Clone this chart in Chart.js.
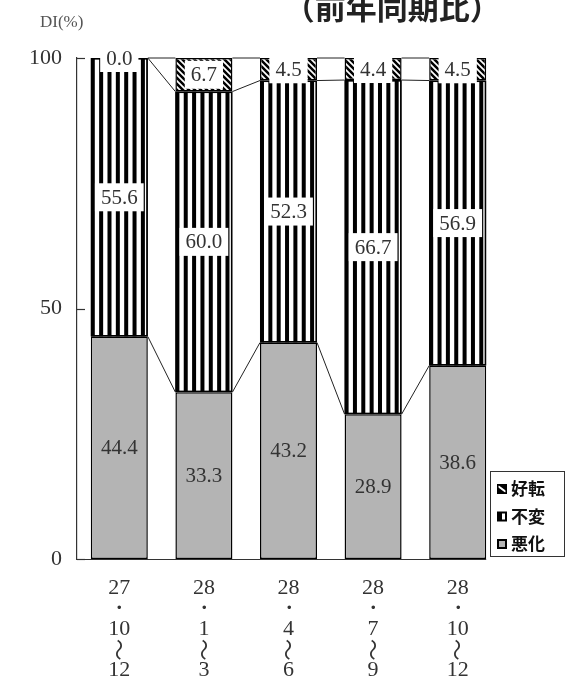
<!DOCTYPE html>
<html>
<head>
<meta charset="utf-8">
<script src="https://cdn.jsdelivr.net/npm/chart.js@4"></script>
<style>
  html, body { margin: 0; padding: 0; background: #fff; }
  #c { display: block; }
</style>
</head>
<body>
<canvas id="c" width="566" height="693"></canvas>
<script>
// Quarterly DI breakdown (%): worsened / unchanged / improved
const periods = [
  ['27', '・', '10', '～', '12'],
  ['28', '・', '1', '～', '3'],
  ['28', '・', '4', '～', '6'],
  ['28', '・', '7', '～', '9'],
  ['28', '・', '10', '～', '12']
];
const worse  = [44.4, 33.3, 43.2, 28.9, 38.6];
const same   = [55.6, 60.0, 52.3, 66.7, 56.9];
const better = [0.0, 6.7, 4.5, 4.4, 4.5];
const yTicks = [0, 50, 100];
const seriesNames = ['悪化', '不変', '好転'];
const titleText = '（前年同期比）';
const unitText = 'DI(%)';

const SERIF = '"Liberation Serif", "DejaVu Serif", serif';
const GOTHIC = '"Noto Sans CJK JP", "Noto Sans", sans-serif';
const WAVE = '～';
const TICK_LINE = 20.5;
const TICK_PAD = 19;

const canvas = document.getElementById('c');
const ctx0 = canvas.getContext('2d');

// diagonal hatch: black ground, white "\" strokes
function makeHatch() {
  const s = 6;
  const c = document.createElement('canvas');
  c.width = s; c.height = s;
  const g = c.getContext('2d');
  g.fillStyle = '#000';
  g.fillRect(0, 0, s, s);
  g.strokeStyle = '#fff';
  g.lineWidth = 1.7;
  g.beginPath();
  g.moveTo(-1, -1); g.lineTo(s + 1, s + 1);
  g.moveTo(-1, s - 1); g.lineTo(1, s + 1);
  g.moveTo(s - 1, -1); g.lineTo(s + 1, 1);
  g.stroke();
  return ctx0.createPattern(c, 'repeat');
}
const hatch = makeHatch();
const GRAY = '#b4b4b4';

// vertical stripes inside each "unchanged" bar, aligned to the bar edges
const stripePlugin = {
  id: 'stripes',
  afterDatasetDraw(chart, args) {
    if (args.index !== 1) return;
    const ctx = chart.ctx;
    args.meta.data.forEach(bar => {
      const p = bar.getProps(['x', 'y', 'base', 'width'], true);
      const l = p.x - p.width / 2, r = p.x + p.width / 2;
      const t = Math.min(p.y, p.base), b = Math.max(p.y, p.base);
      ctx.save();
      ctx.beginPath();
      ctx.rect(l, t, r - l, b - t);
      ctx.clip();
      ctx.fillStyle = '#000';
      for (let sx = l; sx < r - 2; sx += 8.35) ctx.fillRect(sx, t, 4, b - t);
      ctx.restore();
      ctx.save();
      ctx.strokeStyle = '#000';
      ctx.lineWidth = 1.5;
      ctx.strokeRect(l + 0.75, t + 0.75, r - l - 1.5, b - t - 1.5);
      ctx.restore();
    });
  }
};

// connector lines between bars, value labels, axis details
const overlayPlugin = {
  id: 'overlay',
  afterDatasetsDraw(chart) {
    const ctx = chart.ctx;
    const area = chart.chartArea;
    const yScale = chart.scales.y;
    const nDs = chart.data.datasets.length;

    // inward tick marks on the value axis
    ctx.save();
    ctx.strokeStyle = '#333';
    ctx.lineWidth = 1.2;
    yTicks.forEach(v => {
      const py = Math.round(yScale.getPixelForValue(v)) + 0.5;
      ctx.beginPath();
      ctx.moveTo(area.left, py);
      ctx.lineTo(area.left + 8, py);
      ctx.stroke();
    });
    // base line under the bars
    const lastMeta = chart.getDatasetMeta(0).data;
    const lastBar = lastMeta[lastMeta.length - 1].getProps(['x', 'width'], true);
    const by = Math.round(yScale.getPixelForValue(0)) + 0.5;
    ctx.beginPath();
    ctx.moveTo(area.left, by);
    ctx.lineTo(lastBar.x + lastBar.width / 2, by);
    ctx.stroke();
    ctx.restore();

    // connector lines at each stacked boundary
    ctx.save();
    ctx.strokeStyle = '#222';
    ctx.lineWidth = 1;
    for (let d = 0; d < nDs; d++) {
      const bars = chart.getDatasetMeta(d).data;
      for (let i = 0; i < bars.length - 1; i++) {
        const a = bars[i].getProps(['x', 'y', 'width'], true);
        const b = bars[i + 1].getProps(['x', 'y', 'width'], true);
        ctx.beginPath();
        ctx.moveTo(a.x + a.width / 2, a.y);
        ctx.lineTo(b.x - b.width / 2, b.y);
        ctx.stroke();
      }
    }
    ctx.restore();

    // value labels
    ctx.save();
    ctx.font = '21px ' + SERIF;
    ctx.textAlign = 'center';
    ctx.textBaseline = 'middle';
    chart.data.datasets.forEach((ds, d) => {
      const bars = chart.getDatasetMeta(d).data;
      bars.forEach((bar, i) => {
        const p = bar.getProps(['x', 'y', 'base'], true);
        const cy = (p.y + p.base) / 2;
        const txt = ds.data[i].toFixed(1);
        if (ds.labelBox) {
          const w = ctx.measureText(txt).width + 12;
          ctx.fillStyle = '#fff';
          ctx.fillRect(p.x - w / 2, cy - 14, w, 28);
        }
        ctx.fillStyle = '#333';
        ctx.fillText(txt, p.x, cy + 1);
      });
    });
    ctx.restore();
  },
  afterDraw(chart) {
    const ctx = chart.ctx;
    const area = chart.chartArea;
    const xScale = chart.scales.x;

    // the range mark of each period label is written turned upright
    ctx.save();
    ctx.fillStyle = '#333';
    ctx.font = '22px ' + GOTHIC;
    ctx.textAlign = 'center';
    ctx.textBaseline = 'middle';
    chart.data.labels.forEach((lines, i) => {
      const x = xScale.getPixelForTick(i);
      lines.forEach((s, j) => {
        if (s !== WAVE) return;
        const y = area.bottom + TICK_PAD + TICK_LINE / 2 + j * TICK_LINE;
        ctx.save();
        ctx.translate(x, y);
        ctx.rotate(Math.PI / 2);
        ctx.fillText(s, 0, 0);
        ctx.restore();
      });
    });
    ctx.restore();

    // heading and unit
    ctx.save();
    ctx.fillStyle = '#222';
    ctx.font = 'bold 31px ' + GOTHIC;
    ctx.textAlign = 'center';
    ctx.textBaseline = 'alphabetic';
    ctx.fillText(titleText, area.left + area.width * 0.745, 19);
    ctx.fillStyle = '#555';
    ctx.font = '17px ' + SERIF;
    ctx.textAlign = 'left';
    ctx.textBaseline = 'middle';
    ctx.fillText(unitText, area.left - 37, 23);
    ctx.restore();

    // legend box
    const bx = chart.width - 76, bw = 75;
    const by = area.bottom - 88, bh = 86;
    ctx.save();
    ctx.fillStyle = '#fff';
    ctx.fillRect(bx, by, bw, bh + 1);
    ctx.strokeStyle = '#333';
    ctx.lineWidth = 1;
    ctx.strokeRect(bx + 0.5, by + 0.5, bw - 1, bh - 1);
    ctx.font = 'bold 17px ' + GOTHIC;
    ctx.textAlign = 'left';
    ctx.textBaseline = 'middle';
    const order = chart.data.datasets.map((ds, d) => d).reverse();
    order.forEach((d, k) => {
      const cy = by + 18 + k * 27.5;
      const ix = bx + 7, iy = cy - 5;
      ctx.fillStyle = '#000';
      ctx.fillRect(ix, iy, 10, 10);
      if (d === 2) {
        ctx.save();
        ctx.beginPath(); ctx.rect(ix + 1.5, iy + 1.5, 7, 7); ctx.clip();
        ctx.strokeStyle = '#fff'; ctx.lineWidth = 2;
        ctx.beginPath(); ctx.moveTo(ix + 1, iy + 2); ctx.lineTo(ix + 9, iy + 8); ctx.stroke();
        ctx.restore();
      } else if (d === 1) {
        ctx.fillStyle = '#fff';
        ctx.fillRect(ix + 5, iy + 2, 3, 6);
      } else {
        ctx.fillStyle = GRAY;
        ctx.fillRect(ix + 2, iy + 2, 6, 6);
      }
      ctx.fillStyle = '#111';
      ctx.fillText(chart.data.datasets[d].label, ix + 14, cy);
    });
    ctx.restore();
  }
};

new Chart(canvas, {
  type: 'bar',
  data: {
    labels: periods,
    datasets: [
      { label: seriesNames[0], data: worse, backgroundColor: GRAY, labelBox: false },
      { label: seriesNames[1], data: same, backgroundColor: '#fff', labelBox: true },
      { label: seriesNames[2], data: better, backgroundColor: hatch, labelBox: true }
    ]
  },
  options: {
    responsive: false,
    devicePixelRatio: 1,
    animation: false,
    layout: { padding: { top: 58, right: 66, left: 0, bottom: 0 } },
    datasets: {
      bar: {
        categoryPercentage: 1,
        barPercentage: 0.674,
        borderColor: '#000',
        borderWidth: 1.5,
        borderSkipped: false,
        stack: 'di'
      }
    },
    plugins: {
      legend: { display: false },
      tooltip: { enabled: false },
      title: { display: false }
    },
    scales: {
      x: {
        stacked: true,
        grid: { display: false, drawTicks: false },
        border: { display: false },
        ticks: {
          padding: TICK_PAD,
          color: '#333',
          font: { family: SERIF, size: 22, lineHeight: TICK_LINE + 'px' },
          maxRotation: 0,
          autoSkip: false,
          // the range mark is drawn separately, turned upright
          callback(value) {
            return this.getLabelForValue(value).map(s => (s === WAVE ? ' ' : s));
          }
        },
        afterFit(s) { s.height = 134; }
      },
      y: {
        stacked: true,
        min: 0,
        max: 100,
        afterBuildTicks(s) { s.ticks = yTicks.map(v => ({ value: v })); },
        grid: { display: false, drawTicks: false },
        border: { display: true, color: '#333', width: 1.2 },
        ticks: {
          padding: 15,
          color: '#333',
          font: { family: SERIF, size: 22 }
        },
        afterFit(s) { s.width = 77; }
      }
    }
  },
  plugins: [stripePlugin, overlayPlugin]
});
</script>
</body>
</html>
